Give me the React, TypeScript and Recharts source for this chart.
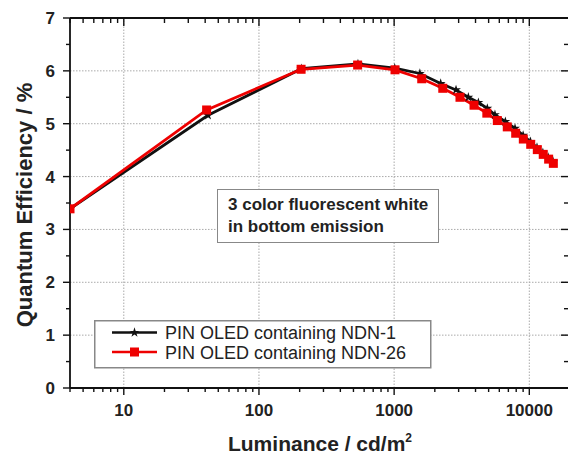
import React from 'react';
import { LineChart, Line, XAxis, YAxis, ReferenceLine, Legend, Label, Symbols } from 'recharts';

const FONT = '"Liberation Sans", Arial, Helvetica, sans-serif';

// Luminance (cd/m²) and external quantum efficiency (%) of the two devices
const luminanceNDN1 = [4, 42, 206, 540, 1010, 1550, 2210, 2870, 3540, 4200, 4890, 5570, 6650, 7840, 9000, 10200, 11400, 12600, 13800, 15000];
const efficiencyNDN1 = [3.39, 5.16, 6.04, 6.13, 6.05, 5.95, 5.76, 5.64, 5.5, 5.4, 5.29, 5.17, 5.04, 4.91, 4.78, 4.66, 4.55, 4.45, 4.36, 4.28];

const luminanceNDN26 = [4, 41, 205, 537, 1015, 1600, 2290, 3070, 3900, 4850, 5800, 6870, 7930, 9030, 10240, 11460, 12680, 13900, 15060];
const efficiencyNDN26 = [3.39, 5.26, 6.03, 6.11, 6.02, 5.85, 5.67, 5.5, 5.35, 5.2, 5.06, 4.94, 4.82, 4.71, 4.61, 4.51, 4.42, 4.33, 4.25];

const seriesNames = ['PIN OLED containing NDN-1', 'PIN OLED containing NDN-26'];
const seriesColors = ['#111111', '#ee0000'];

const annotationLines = ['3 color fluorescent white', 'in bottom emission'];
const xTitle = 'Luminance / cd/m';
const yTitle = 'Quantum Efficiency / %';

const xDomain = [4, 20000];
const xMajorTicks = [10, 100, 1000, 10000];
const xMinorTicks = [4, 5, 6, 7, 8, 9, 20, 30, 40, 50, 60, 70, 80, 90, 200, 300, 400, 500, 600, 700, 800, 900, 2000, 3000, 4000, 5000, 6000, 7000, 8000, 9000];
const yDomain = [0, 7];
const yMajorTicks = [0, 1, 2, 3, 4, 5, 6, 7];
const yMinorTicks = [0.5, 1.5, 2.5, 3.5, 4.5, 5.5, 6.5];
const yGridValues = [1, 2, 3, 4, 5, 6];

const xAllTicks = [...xMajorTicks, ...xMinorTicks].sort((a, b) => a - b);
const yAllTicks = [...yMajorTicks, ...yMinorTicks].sort((a, b) => a - b);

const dataNDN1 = luminanceNDN1.map((x, i) => ({ x, y: efficiencyNDN1[i] }));
const dataNDN26 = luminanceNDN26.map((x, i) => ({ x, y: efficiencyNDN26[i] }));

const AXIS = '#111';

const BottomTick = (props: any) => {
  const { x, y, payload } = props;
  const major = xMajorTicks.includes(payload.value);
  return (
    <g>
      <line x1={x} x2={x} y1={y} y2={y + (major ? 7 : 4)} stroke={AXIS} strokeWidth={1.4} />
      {major && (
        <text x={x} y={y + 28} textAnchor="middle" fontFamily={FONT} fontWeight="bold" fontSize={17} fill="#222">
          {payload.value}
        </text>
      )}
    </g>
  );
};

const TopTick = (props: any) => {
  const { x, y, payload } = props;
  const major = xMajorTicks.includes(payload.value);
  return <line x1={x} x2={x} y1={y} y2={y + (major ? 8 : 5)} stroke={AXIS} strokeWidth={1.4} />;
};

const LeftTick = (props: any) => {
  const { x, y, payload } = props;
  const major = yMajorTicks.includes(payload.value);
  return (
    <g>
      <line x1={x} x2={x - (major ? 7 : 4)} y1={y} y2={y} stroke={AXIS} strokeWidth={1.4} />
      {major && (
        <text x={x - 15} y={y + 6} textAnchor="end" fontFamily={FONT} fontWeight="bold" fontSize={17} fill="#222">
          {payload.value}
        </text>
      )}
    </g>
  );
};

const RightTick = (props: any) => {
  const { x, y, payload } = props;
  const major = yMajorTicks.includes(payload.value);
  return <line x1={x} x2={x - (major ? 9 : 6)} y1={y} y2={y} stroke={AXIS} strokeWidth={1.4} />;
};

const StarDot = (props: any) => {
  const { cx, cy } = props;
  if (cx == null || cy == null) return <g />;
  return <Symbols cx={cx} cy={cy} type="star" size={30} fill={seriesColors[0]} />;
};

const SquareDot = (props: any) => {
  const { cx, cy } = props;
  if (cx == null || cy == null) return <g />;
  return <rect x={cx - 4.5} y={cy - 4.5} width={9} height={9} fill={seriesColors[1]} />;
};

const LegendBox = () => (
  <svg width={338} height={49} style={{ display: 'block' }}>
    <rect x={0.75} y={0.75} width={336} height={47} fill="#fff" stroke="#888" strokeWidth={1.5} />
    {seriesNames.map((name, i) => {
      const cy = i === 0 ? 12.5 : 32;
      return (
        <g key={name}>
          <line x1={18} x2={63} y1={cy} y2={cy} stroke={seriesColors[i]} strokeWidth={2.6} />
          {i === 0 ? (
            <Symbols cx={40.5} cy={cy} type="star" size={30} fill={seriesColors[0]} />
          ) : (
            <rect x={36} y={cy - 4.5} width={9} height={9} fill={seriesColors[1]} />
          )}
          <text x={71} y={cy + 6.5} fontFamily={FONT} fontSize={18} fill="#222">
            {name}
          </text>
        </g>
      );
    })}
  </svg>
);

export default function App() {
  return (
    <div style={{ position: 'absolute', left: 0, top: 0, width: 568, height: 456, overflow: 'hidden', background: '#fff' }}>
      <LineChart width={580} height={456} margin={{ top: 0, right: 0, bottom: 0, left: 0 }}>
        {xMajorTicks.map((v) => (
          <ReferenceLine key={`gx${v}`} x={v} stroke="#aaa" strokeDasharray="1.5 1.5" strokeWidth={1} />
        ))}
        {yGridValues.map((v) => (
          <ReferenceLine key={`gy${v}`} y={v} stroke="#aaa" strokeDasharray="1.5 1.5" strokeWidth={1} />
        ))}
        <XAxis
          dataKey="x"
          type="number"
          scale="log"
          domain={xDomain}
          allowDataOverflow
          ticks={xAllTicks}
          interval={0}
          tickSize={0}
          tickMargin={0}
          tickLine={false}
          tick={BottomTick}
          height={68}
          axisLine={{ stroke: AXIS, strokeWidth: 1.8 }}
        >
          <Label
            content={(p: any) => {
              const vb = p.viewBox;
              return (
                <text x={vb.x + vb.width / 2} y={vb.y + 63} textAnchor="middle" fontFamily={FONT} fontWeight="bold" fontSize={21} fill="#222">
                  {xTitle}
                  <tspan dy={-9} fontSize={12}>2</tspan>
                </text>
              );
            }}
          />
        </XAxis>
        <XAxis
          xAxisId="top"
          orientation="top"
          dataKey="x"
          type="number"
          scale="log"
          domain={xDomain}
          allowDataOverflow
          ticks={xAllTicks}
          interval={0}
          tickSize={0}
          tickMargin={0}
          tickLine={false}
          tick={TopTick}
          height={18}
          axisLine={{ stroke: AXIS, strokeWidth: 1.8 }}
        />
        <YAxis
          type="number"
          domain={yDomain}
          allowDataOverflow
          ticks={yAllTicks}
          interval={0}
          tickSize={0}
          tickMargin={0}
          tickLine={false}
          tick={LeftTick}
          width={70}
          axisLine={{ stroke: AXIS, strokeWidth: 1.8 }}
        >
          <Label
            content={(p: any) => {
              const vb = p.viewBox;
              const cx = 32;
              const cy = vb.y + vb.height / 2 + 2;
              return (
                <text transform={`rotate(-90 ${cx} ${cy})`} x={cx} y={cy} textAnchor="middle" fontFamily={FONT} fontWeight="bold" fontSize={22} fill="#222">
                  {yTitle}
                </text>
              );
            }}
          />
        </YAxis>
        <YAxis
          yAxisId="right"
          orientation="right"
          type="number"
          domain={yDomain}
          allowDataOverflow
          ticks={yAllTicks}
          interval={0}
          tickSize={0}
          tickMargin={0}
          tickLine={false}
          tick={RightTick}
          width={10}
          axisLine={{ stroke: AXIS, strokeWidth: 1.8 }}
        />
        <Legend
          layout="horizontal"
          verticalAlign="middle"
          align="center"
          content={LegendBox}
          wrapperStyle={{ left: 94, top: 320, width: 338, height: 49 }}
        />
        <Line
          data={dataNDN1}
          dataKey="y"
          name={seriesNames[0]}
          stroke={seriesColors[0]}
          strokeWidth={2.8}
          dot={StarDot}
          activeDot={false}
          isAnimationActive={false}
        />
        <Line
          data={dataNDN26}
          dataKey="y"
          name={seriesNames[1]}
          stroke={seriesColors[1]}
          strokeWidth={2.8}
          dot={SquareDot}
          activeDot={false}
          isAnimationActive={false}
        />
      </LineChart>
      <div
        style={{
          position: 'absolute',
          left: 217,
          top: 189,
          width: 222,
          height: 54,
          boxSizing: 'border-box',
          border: '1.5px solid #888',
          background: '#fff',
          padding: '4px 0 0 10px',
          fontFamily: FONT,
          fontWeight: 'bold',
          fontSize: 17,
          lineHeight: '22px',
          color: '#222',
          whiteSpace: 'nowrap',
        }}
      >
        {annotationLines.map((t) => (
          <div key={t}>{t}</div>
        ))}
      </div>
    </div>
  );
}
